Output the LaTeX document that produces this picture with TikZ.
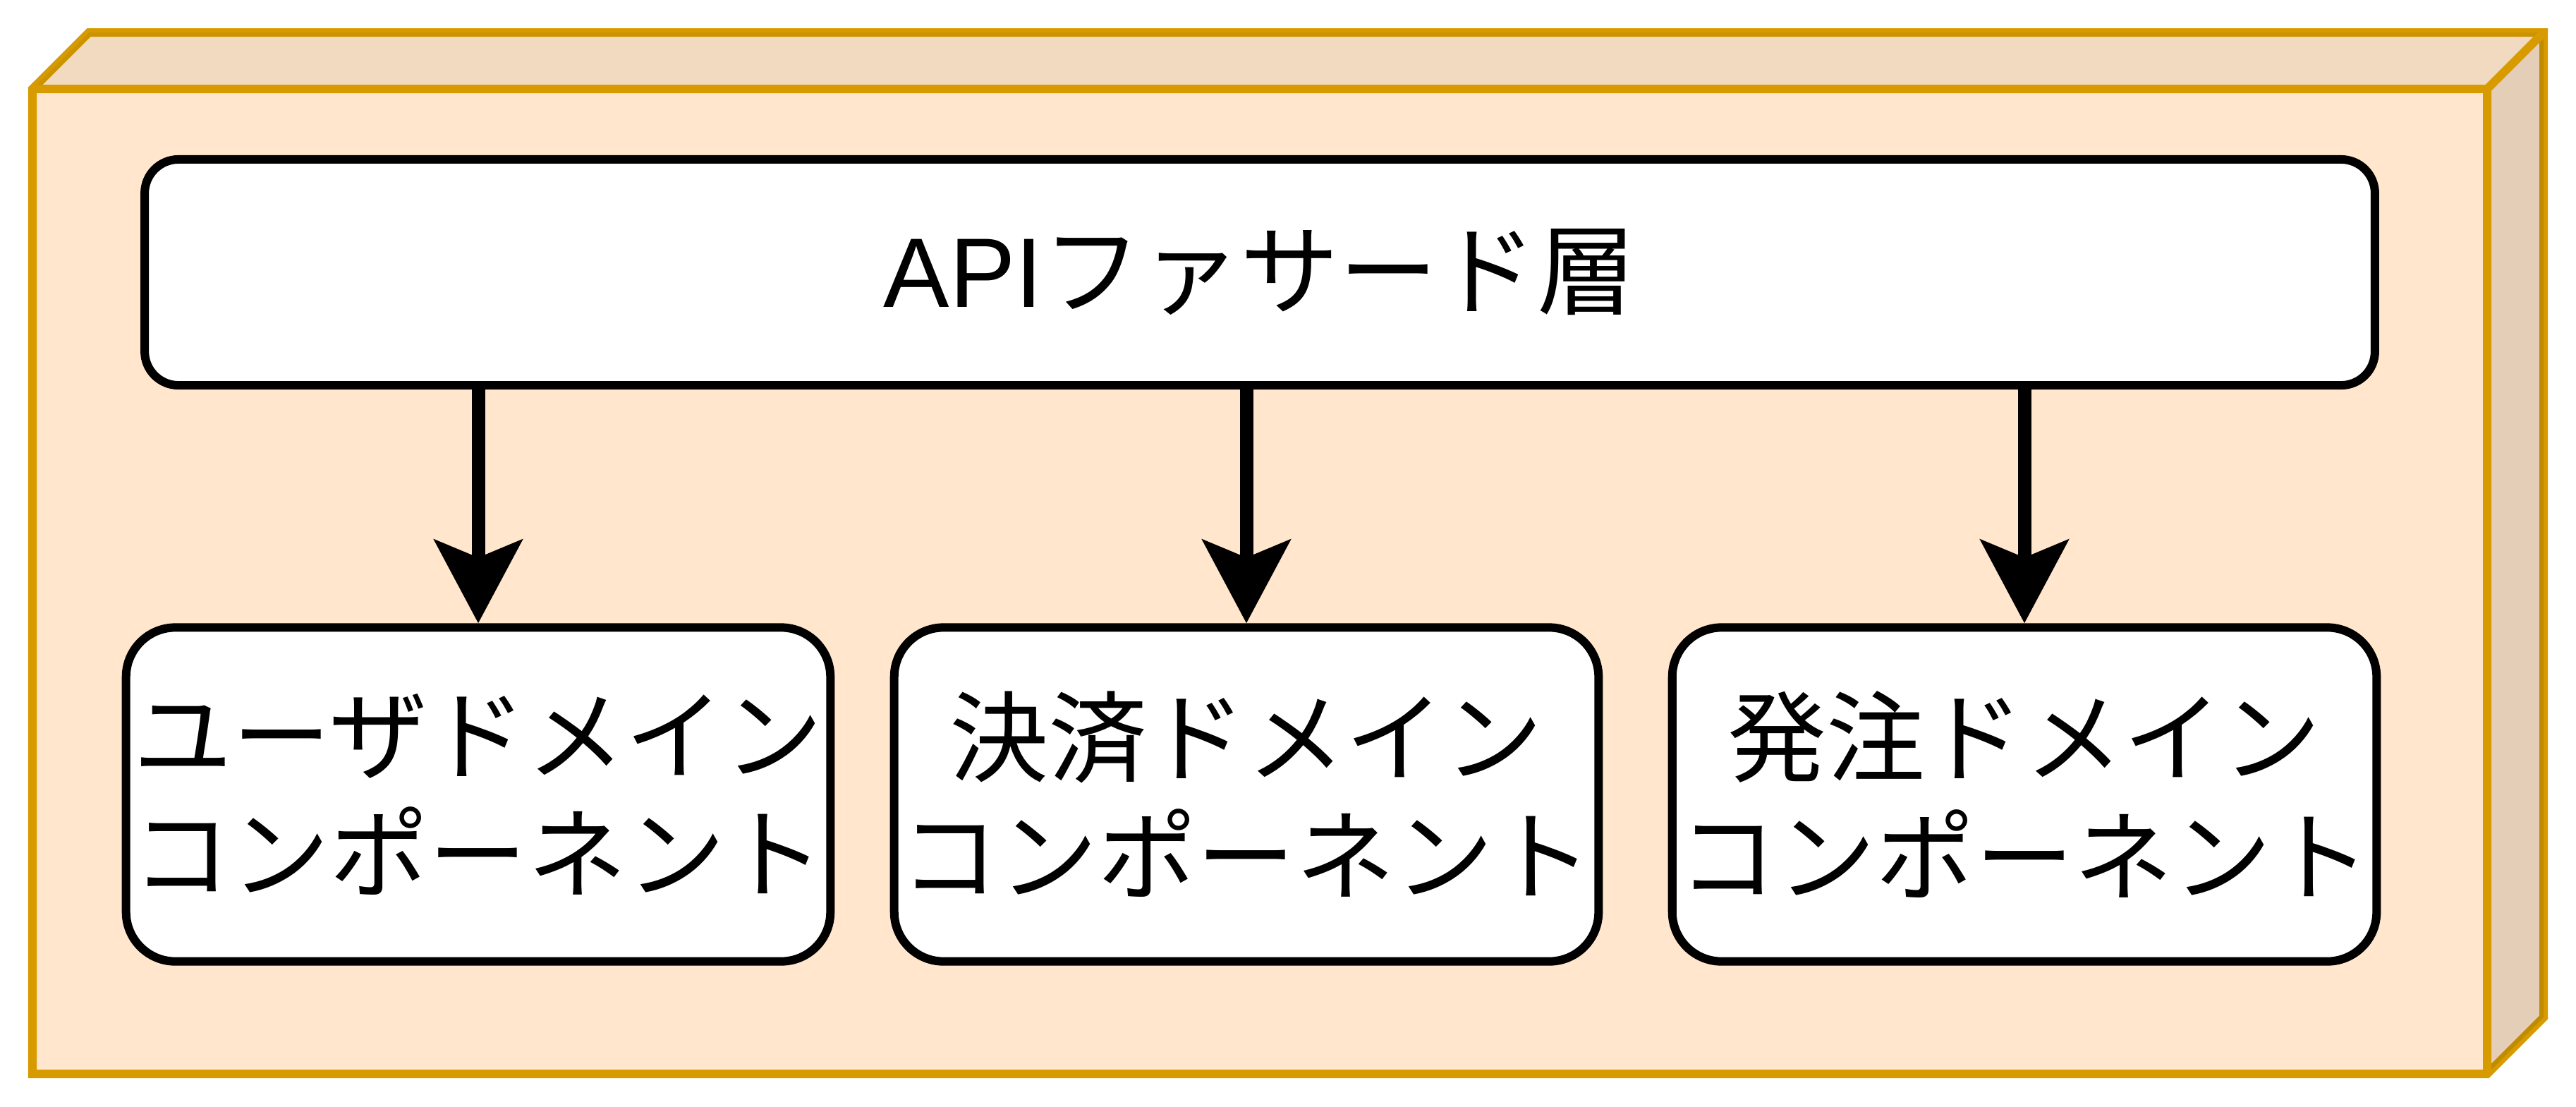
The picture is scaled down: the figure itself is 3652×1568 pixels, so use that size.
\documentclass[tikz,border=0pt]{standalone}
\usepackage{fontspec}
\setmainfont{Noto Sans CJK JP}
\newfontfamily\latinf{Liberation Sans}
\usetikzlibrary{arrows.meta}
\definecolor{cubefill}{HTML}{FFE6CC}
\definecolor{cubeline}{HTML}{D79B00}
\begin{document}
\begin{tikzpicture}[x=0.01cm,y=-0.01cm,
  box/.style={draw=black, line width=0.12cm, fill=white, rounded corners=0.7cm, minimum width=9.98cm, minimum height=4.73cm, inner sep=0pt, align=center, font=\fontsize{39.83}{47.8}\selectfont},
  topbox/.style={draw=black, line width=0.12cm, fill=white, rounded corners=0.48cm, minimum width=31.6cm, minimum height=3.2cm, inner sep=0pt, font=\fontsize{39.83}{47.8}\selectfont},
  cubeedge/.style={line width=0.12cm, draw=cubeline},
  flow/.style={line width=0.19cm, -{Stealth[length=1.18cm,width=1.24cm,inset=0.25cm]}}
]
\useasboundingbox (0,0) rectangle (3652,1568);
\draw[cubeedge, fill=cubefill, line join=miter] (46,126) -- (126,46) -- (3606,46) -- (3606,1442) -- (3526,1522) -- (46,1522) -- cycle;
\fill[black, opacity=0.05] (46,126) -- (126,46) -- (3606,46) -- (3526,126) -- cycle;
\fill[black, opacity=0.1] (3526,126) -- (3606,46) -- (3606,1442) -- (3526,1522) -- cycle;
\draw[cubeedge] (46,126) -- (3526,126) -- (3526,1522) (3526,126) -- (3606,46);

\node[topbox] (api) at (1786,386) {{\latinf API}ファサード層};
\node[box] (user) at (678,1126) {ユーザドメイン\\コンポーネント};
\node[box] (pay) at (1767,1126) {決済ドメイン\\コンポーネント};
\node[box] (order) at (2870,1126) {発注ドメイン\\コンポーネント};

\draw[flow] (api.south -| user.north) -- (user.north);
\draw[flow] (api.south -| pay.north) -- (pay.north);
\draw[flow] (api.south -| order.north) -- (order.north);
\end{tikzpicture}
\end{document}
